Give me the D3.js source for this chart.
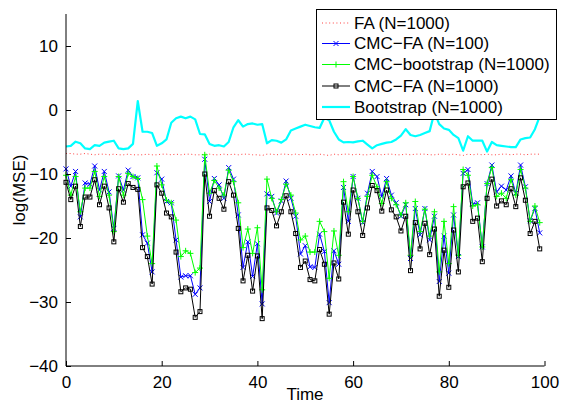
<!DOCTYPE html>
<html><head><meta charset="utf-8">
<script src="https://cdn.jsdelivr.net/npm/d3@7"></script>
<style>body{margin:0;background:#fff}svg{display:block}text{font-family:"Liberation Sans",Arial,Helvetica,sans-serif}</style>
</head><body>
<svg id="c" width="563" height="403"></svg>
<script>
const time = d3.range(0, 100);
const faN1000 = [-6.8,-6.8,-6.9,-6.9,-6.8,-6.9,-7.0,-6.9,-6.9,-7.0,-6.9,-7.0,-7.0,-6.9,-7.0,-7.0,-7.0,-6.9,-7.0,-7.0,
  -6.9,-6.9,-7.0,-6.9,-7.0,-6.9,-6.9,-7.0,-7.0,-6.9,-6.9,-7.0,-7.0,-6.9,-7.0,-6.9,-7.0,-6.9,-6.9,-7.0,
  -7.0,-7.1,-6.9,-6.9,-7.0,-6.9,-6.9,-7.0,-6.9,-7.0,-6.9,-7.0,-7.0,-6.9,-7.0,-7.1,-6.9,-7.0,-6.9,-6.9,
  -7.0,-6.9,-7.0,-7.0,-6.9,-6.9,-7.0,-6.9,-6.9,-7.0,-7.0,-6.9,-7.0,-6.9,-6.9,-6.9,-7.0,-7.0,-6.9,-6.9,
  -7.0,-6.9,-7.0,-7.1,-6.9,-7.0,-6.9,-7.0,-6.9,-7.0,-7.0,-6.9,-6.9,-7.0,-6.9,-6.9,-7.0,-6.9,-6.9,-6.9];
const cmcFaN100 = [-9.2,-11.9,-9.6,-16.7,-11.4,-11.6,-8.75,-12.5,-9.6,-12.8,-18.5,-10.3,-12.5,-9.4,-10.4,-10.6,-19.5,-20.8,-25.3,-9.8,
  -10.8,-14.3,-14.5,-20.3,-26.1,-25.9,-25.9,-28.8,-27.8,-7.7,-14.3,-10.7,-11.7,-13.8,-9.0,-10.8,-16.4,-24.6,-20.6,-26.0,
  -20.9,-30.3,-13.1,-13.5,-16.1,-14.2,-11.1,-13.8,-16.6,-22.5,-21.2,-24.5,-24.6,-19.4,-22.1,-30.1,-22.0,-24.1,-12.1,-17.4,
  -10.4,-13.8,-17.6,-13.0,-9.6,-10.4,-13.5,-10.7,-13.3,-14.5,-16.6,-14.8,-23.2,-15.4,-19.5,-15.4,-20.3,-16.6,-26.8,-19.7,
  -25.5,-16.4,-22.9,-9.9,-9.3,-14.7,-14.5,-21.4,-11.5,-8.6,-12.8,-11.9,-12.5,-10.3,-13.0,-8.6,-12.0,-17.3,-15.4,-19.2];
const cmcBootN1000 = [-10.2,-13.3,-10.4,-15.9,-12.2,-12.2,-9.6,-13.5,-10.4,-13.3,-19.0,-10.4,-13.3,-9.9,-10.4,-10.7,-14.0,-19.7,-24.0,-8.75,
  -11.7,-14.1,-14.5,-17.2,-22.9,-22.0,-22.4,-25.4,-24.7,-7.0,-13.0,-11.0,-12.2,-13.3,-9.4,-11.2,-14.5,-21.5,-18.6,-22.4,
  -18.4,-28.1,-10.8,-13.8,-15.9,-14.0,-11.6,-13.3,-16.1,-20.3,-19.7,-22.2,-22.2,-17.4,-19.0,-26.3,-18.9,-22.7,-11.2,-15.9,
  -10.4,-13.8,-17.4,-13.5,-10.2,-12.0,-14.6,-11.2,-13.8,-14.8,-16.4,-14.5,-22.7,-14.3,-19.0,-15.5,-19.7,-15.9,-25.3,-17.4,
  -24.0,-15.1,-22.7,-9.3,-10.2,-15.0,-14.8,-21.4,-11.5,-9.0,-13.5,-13.0,-13.8,-10.9,-13.3,-9.3,-12.2,-17.4,-15.0,-17.6];
const cmcFaN1000 = [-11.3,-14.0,-11.9,-18.2,-13.6,-13.6,-10.9,-14.8,-11.9,-15.3,-20.6,-12.3,-14.4,-11.5,-12.1,-12.4,-21.5,-22.9,-27.2,-11.7,
  -13.0,-16.1,-16.7,-22.2,-28.4,-27.8,-28.0,-32.4,-31.5,-10.0,-16.6,-12.6,-13.8,-15.5,-11.2,-13.3,-18.5,-26.7,-22.7,-28.3,
  -22.8,-32.6,-15.3,-15.7,-18.1,-15.9,-13.4,-15.9,-19.3,-24.6,-23.6,-26.5,-26.7,-21.8,-24.1,-31.9,-23.9,-26.4,-14.4,-19.4,
  -12.5,-15.9,-19.6,-15.3,-11.8,-12.6,-15.8,-12.5,-15.6,-16.7,-18.9,-16.6,-25.1,-17.6,-21.7,-17.7,-22.6,-18.6,-29.1,-21.9,
  -27.7,-18.75,-25.3,-12.0,-11.4,-17.4,-16.9,-23.7,-13.8,-10.8,-15.0,-14.2,-14.8,-12.3,-15.1,-10.6,-14.1,-19.3,-17.4,-21.7];
const bootN1000 = [-5.7,-5.6,-4.95,-5.2,-6.0,-6.1,-5.5,-5.6,-5.1,-4.95,-4.8,-6.0,-6.1,-6.0,-5.3,1.4,-3.4,-3.4,-3.6,-5.6,
  -5.2,-4.6,-2.0,-1.3,-1.04,-1.3,-1.04,-1.46,-3.75,-3.8,-5.3,-5.6,-5.5,-5.7,-5.0,-2.7,-1.6,-2.6,-2.2,-2.1,
  -2.3,-2.2,-5.2,-4.7,-4.8,-5.1,-4.6,-3.2,-2.9,-2.6,-2.3,-2.5,-2.7,-2.8,-1.2,-1.6,-3.4,-4.6,-5.05,-5.0,
  -5.05,-4.9,-4.8,-5.4,-6.0,-5.5,-5.3,-5.1,-5.0,-4.6,-4.0,-3.0,-3.9,-4.1,-3.9,-3.6,-3.3,-0.4,-2.2,-2.9,
  -3.1,-3.9,-4.4,-6.35,-4.1,-4.8,-4.8,-4.8,-6.5,-5.0,-5.5,-5.6,-5.7,-5.8,-5.8,-4.6,-4.4,-4.3,-3.0,-1.0];
const xTicks = [0, 20, 40, 60, 80, 100];
const yTicks = [-40, -30, -20, -10, 0, 10];
const seriesNames = ["FA (N=1000)", "CMC\u2212FA (N=100)", "CMC\u2212bootstrap (N=1000)", "CMC\u2212FA (N=1000)", "Bootstrap (N=1000)"];

const svg = d3.select("#c");
const W = 563, H = 403;
svg.append("rect").attr("width", W).attr("height", H).attr("fill", "#fff");
const x = d3.scaleLinear().domain([0, 100]).range([66, 544.5]);
const y = d3.scaleLinear().domain([-40, 15]).range([366, 14]);
const FS = 17;

const series = [
  {name: seriesNames[0], vals: faN1000, color: "#ff0000", width: 1, dash: "1,2.6", marker: null},
  {name: seriesNames[1], vals: cmcFaN100, color: "#0000ff", width: 1, dash: null, marker: "x"},
  {name: seriesNames[2], vals: cmcBootN1000, color: "#00ff00", width: 1, dash: null, marker: "+"},
  {name: seriesNames[3], vals: cmcFaN1000, color: "#000000", width: 1, dash: null, marker: "s"},
  {name: seriesNames[4], vals: bootN1000, color: "#00ffff", width: 2.2, dash: null, marker: null}
];

function drawMarker(g, type, cx, cy, color) {
  if (type === "x") {
    const r = 2.5;
    g.append("path").attr("d", `M${cx-r},${cy-r}L${cx+r},${cy+r}M${cx-r},${cy+r}L${cx+r},${cy-r}`)
      .attr("stroke", color).attr("stroke-width", 1).attr("fill", "none");
  } else if (type === "+") {
    const r = 3;
    g.append("path").attr("d", `M${cx-r},${cy}L${cx+r},${cy}M${cx},${cy-r}L${cx},${cy+r}`)
      .attr("stroke", color).attr("stroke-width", 1).attr("fill", "none");
  } else if (type === "s") {
    const r = 2;
    g.append("rect").attr("x", cx-r).attr("y", cy-r).attr("width", 2*r).attr("height", 2*r)
      .attr("stroke", color).attr("stroke-width", 1).attr("fill", "none");
  }
}

const plot = svg.append("g");
const line = d3.line().x((d, i) => x(time[i])).y(d => y(d));
series.forEach(s => {
  const p = plot.append("path").attr("d", line(s.vals)).attr("fill", "none")
    .attr("stroke", s.color).attr("stroke-width", s.width).attr("stroke-linejoin", "round");
  if (s.dash) p.attr("stroke-dasharray", s.dash).attr("opacity", 0.75);
  if (s.marker) {
    const mg = plot.append("g");
    s.vals.forEach((v, i) => drawMarker(mg, s.marker, x(time[i]), y(v), s.color));
  }
});

// axes
const xAxis = d3.axisBottom(x).tickValues(xTicks).tickSizeInner(-5).tickSizeOuter(0).tickPadding(10);
const yAxis = d3.axisLeft(y).tickValues(yTicks).tickSizeInner(-5).tickSizeOuter(0).tickPadding(8);
const gx = svg.append("g").attr("transform", "translate(0,366)").call(xAxis);
const gy = svg.append("g").attr("transform", "translate(66,0)").call(yAxis);
[gx, gy].forEach(g => {
  g.select(".domain").attr("stroke", "#000").attr("stroke-width", 1);
  g.selectAll(".tick line").attr("stroke", "#000");
  g.selectAll(".tick text").attr("font-size", FS).attr("fill", "#000")
   .style("font-family", '"Liberation Sans",Arial,sans-serif');
});
gy.select(".domain").attr("d", "M0,366V14");
gx.select(".domain").attr("d", "M66,0H544.5");

svg.append("text").attr("x", 305).attr("y", 400).attr("text-anchor", "middle")
  .attr("font-size", FS).text("Time");
svg.append("text").attr("transform", "translate(25,190) rotate(-90)").attr("text-anchor", "middle")
  .attr("font-size", FS).text("log(MSE)");

// legend
const lg = svg.append("g");
lg.append("rect").attr("x", 316.5).attr("y", 9.5).attr("width", 240).attr("height", 110)
  .attr("fill", "#fff").attr("stroke", "#000").attr("stroke-width", 1);
const rowY = [23, 43.5, 64.5, 86, 107];
series.forEach((s, i) => {
  const yy = rowY[i];
  const l = lg.append("line").attr("x1", 322).attr("x2", 350).attr("y1", yy).attr("y2", yy)
    .attr("stroke", s.color).attr("stroke-width", s.width);
  if (s.dash) l.attr("stroke-dasharray", s.dash).attr("opacity", 0.75);
  if (s.marker) drawMarker(lg, s.marker, 336, yy, s.color);
  lg.append("text").attr("x", 354).attr("y", yy).attr("dy", "0.35em")
    .attr("font-size", FS).attr("fill", "#000").text(s.name);
});
</script>
</body></html>
